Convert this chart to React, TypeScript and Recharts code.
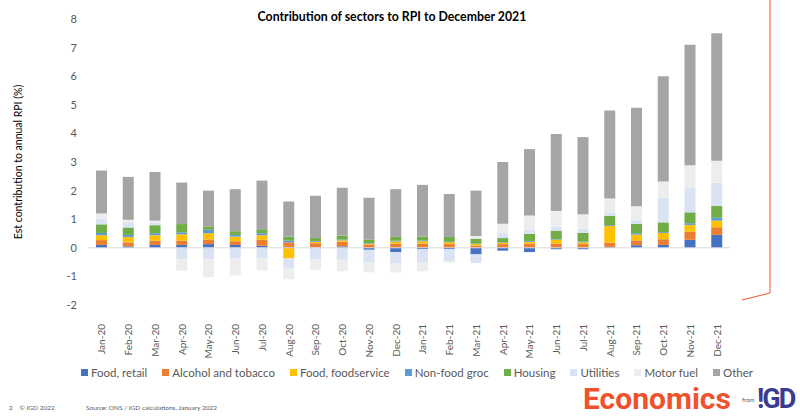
import React from 'react';
import { BarChart, Bar, XAxis, YAxis, ReferenceLine } from 'recharts';

const months = [
  'Jan-20', 'Feb-20', 'Mar-20', 'Apr-20', 'May-20', 'Jun-20', 'Jul-20', 'Aug-20', 'Sep-20', 'Oct-20', 'Nov-20', 'Dec-20',
  'Jan-21', 'Feb-21', 'Mar-21', 'Apr-21', 'May-21', 'Jun-21', 'Jul-21', 'Aug-21', 'Sep-21', 'Oct-21', 'Nov-21', 'Dec-21',
];

const foodRetail = [0.1, 0.05, 0.1, 0.1, 0.13, 0.1, 0.07, 0.03, 0.01, 0.05, -0.07, -0.15, -0.05, -0.05, -0.23, -0.1, -0.15, -0.05, -0.05, 0.03, 0.09, 0.1, 0.28, 0.45];
const alcohol = [0.17, 0.14, 0.15, 0.15, 0.16, 0.13, 0.21, 0.16, 0.15, 0.16, 0.12, 0.15, 0.15, 0.13, 0.08, 0.13, 0.15, 0.15, 0.13, 0.15, 0.17, 0.2, 0.28, 0.27];
const foodservice = [0.17, 0.19, 0.19, 0.22, 0.22, 0.16, 0.16, -0.37, 0.05, 0.05, 0.02, 0.07, 0.08, 0.06, 0.05, 0.04, 0.06, 0.13, 0.06, 0.58, 0.2, 0.22, 0.24, 0.23];
const nonFood = [0.08, 0.07, 0.07, 0.07, 0.12, 0.06, 0.07, 0.06, 0.03, 0.03, 0.02, 0.03, 0.03, 0.02, 0.02, 0.02, 0.03, 0.02, 0.03, 0.03, 0.05, 0.03, 0.06, 0.1];
const housing = [0.3, 0.26, 0.28, 0.29, 0.12, 0.13, 0.14, 0.14, 0.1, 0.14, 0.12, 0.13, 0.13, 0.17, 0.17, 0.15, 0.25, 0.3, 0.3, 0.33, 0.33, 0.34, 0.38, 0.41];
const utilities = [0.2, 0.2, 0.1, -0.4, -0.4, -0.37, -0.37, -0.33, -0.4, -0.42, -0.43, -0.38, -0.47, -0.42, -0.3, 0.17, 0.14, 0.14, 0.14, 0.12, 0.12, 0.86, 0.87, 0.82];
const motorFuel = [0.18, 0.07, 0.06, -0.4, -0.63, -0.6, -0.42, -0.4, -0.37, -0.4, -0.36, -0.33, -0.3, -0.05, 0.09, 0.33, 0.5, 0.55, 0.51, 0.48, 0.49, 0.57, 0.78, 0.76];
const other = [1.5, 1.5, 1.7, 1.45, 1.25, 1.47, 1.7, 1.23, 1.48, 1.67, 1.47, 1.67, 1.81, 1.5, 1.59, 2.16, 2.32, 2.69, 2.7, 3.08, 3.45, 3.68, 4.21, 4.46];

const yTicks = [-2, -1, 0, 1, 2, 3, 4, 5, 6, 7, 8];

const series = [
  { key: 'foodRetail', name: 'Food, retail', color: '#4472C4', values: foodRetail },
  { key: 'alcohol', name: 'Alcohol and tobacco', color: '#ED7D31', values: alcohol },
  { key: 'foodservice', name: 'Food, foodservice', color: '#FFC000', values: foodservice },
  { key: 'nonFood', name: 'Non-food groc', color: '#5B9BD5', values: nonFood },
  { key: 'housing', name: 'Housing', color: '#70AD47', values: housing },
  { key: 'utilities', name: 'Utilities', color: '#DAE3F3', values: utilities },
  { key: 'motorFuel', name: 'Motor fuel', color: '#EDEDED', values: motorFuel },
  { key: 'other', name: 'Other', color: '#A5A5A5', values: other },
];

const data = months.map((m, i) => {
  const row: Record<string, any> = { month: m };
  series.forEach((s) => { row[s.key] = s.values[i]; });
  return row;
});

const FONT = 'Lato, "Noto Sans", sans-serif';
const NARROW = '"Liberation Sans Narrow", Roboto, sans-serif';

function MonthTick(props: any) {
  const { x, y, payload } = props;
  return (
    <text
      x={x}
      y={y + 17}
      transform={`rotate(-90 ${x} ${y + 17})`}
      textAnchor="end"
      dominantBaseline="central"
      fontSize={10}
      fill="#595959"
      fontFamily={FONT}
    >
      {payload.value}
    </text>
  );
}

export default function App() {
  return (
    <div style={{ position: 'absolute', left: 0, top: 0, width: 800, height: 416, background: '#fff', overflow: 'hidden', fontFamily: FONT }}>
      <BarChart
        width={800}
        height={416}
        data={data}
        stackOffset="sign"
        barSize={11}
        margin={{ top: 19, right: 70, bottom: 0, left: 0 }}
      >
        <text x={392} y={21} textAnchor="middle" fontSize={12.3} fontWeight={700} fill="#000" fontFamily={FONT}>
          Contribution of sectors to RPI to December 2021
        </text>
        <XAxis dataKey="month" axisLine={false} tickLine={false} tickSize={0} interval={0} height={111} tick={<MonthTick />} />
        <YAxis
          domain={[-2, 8]}
          ticks={yTicks}
          width={88}
          axisLine={false}
          tickLine={false}
          tickSize={0}
          tickMargin={11}
          tick={{ fontSize: 11, fill: '#595959', fontFamily: FONT }}
          label={{
            value: 'Est contribution to annual RPI (%)',
            angle: -90,
            position: 'insideLeft',
            offset: 18,
            style: { textAnchor: 'middle', fontSize: 10.5, fill: '#000', fontFamily: FONT },
          }}
        />
        <ReferenceLine y={0} stroke="#D9D9D9" strokeWidth={1} />
        {series.map((s) => (
          <Bar key={s.key} dataKey={s.key} name={s.name} stackId="a" fill={s.color} isAnimationActive={false} />
        ))}
      </BarChart>

      <div style={{ position: 'absolute', top: 366, left: 81, display: 'flex', fontSize: 11.5, color: '#595959', whiteSpace: 'nowrap' }}>
        {series.map((s) => (
          <div key={s.key} style={{ display: 'flex', alignItems: 'center', marginRight: 15 }}>
            <span style={{ width: 7, height: 7, background: s.color, display: 'inline-block', marginRight: 3 }} />
            <span>{s.name}</span>
          </div>
        ))}
      </div>

      <svg width={800} height={416} style={{ position: 'absolute', left: 0, top: 0, pointerEvents: 'none' }}>
        <polyline points="770,0 770,293 742,300" fill="none" stroke="#F0522B" strokeWidth={1} />
      </svg>

      <div style={{ position: 'absolute', left: 9, top: 404, fontSize: 6.5, color: '#595959' }}>2&nbsp;&nbsp;&nbsp;&nbsp;© IGD 2022</div>
      <div style={{ position: 'absolute', left: 86, top: 404, fontSize: 6.5, color: '#595959' }}>Source: ONS / IGD calculations, January 2022</div>
      <div style={{ position: 'absolute', left: 583, top: 384, fontSize: 30, lineHeight: '30px', fontWeight: 700, color: '#F0522B', fontFamily: NARROW }}>
        Economics
      </div>
      <div style={{ position: 'absolute', left: 742, top: 396, fontSize: 6, color: '#595959' }}>from</div>
      <div style={{ position: 'absolute', left: 757, top: 385, fontSize: 27, lineHeight: '28px', fontWeight: 700, color: '#3B3B8F', fontFamily: NARROW, letterSpacing: -2 }}>
        !GD
      </div>
    </div>
  );
}
